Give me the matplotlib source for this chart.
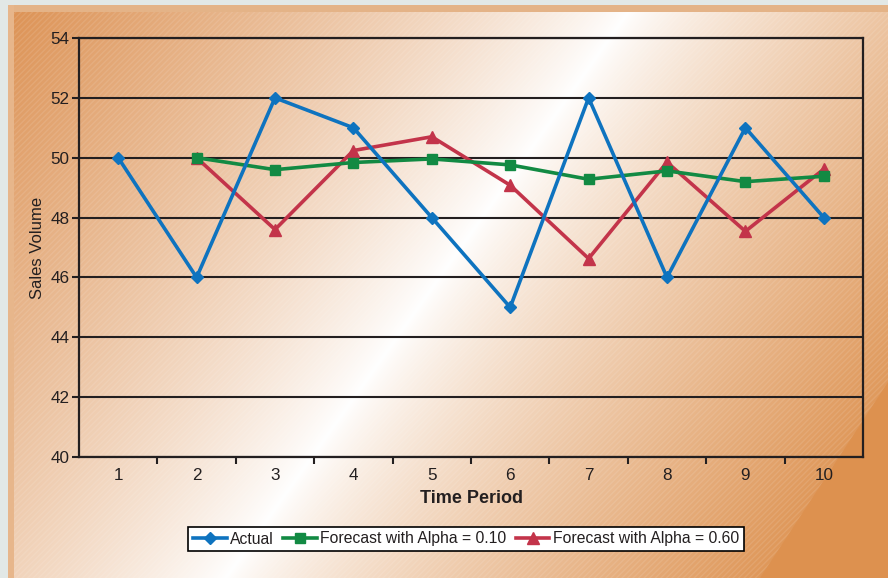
import numpy as np
import matplotlib.pyplot as plt
from matplotlib.patches import Rectangle, Polygon

plt.rcParams['font.family'] = ['Liberation Sans', 'DejaVu Sans']

# --- data ---
periods = [1, 2, 3, 4, 5, 6, 7, 8, 9, 10]
actual = [50, 46, 52, 51, 48, 45, 52, 46, 51, 48]
fc_periods = [2, 3, 4, 5, 6, 7, 8, 9, 10]
fc_010 = [50, 49.6, 49.84, 49.96, 49.76, 49.28, 49.56, 49.2, 49.38]
fc_060 = [50, 47.6, 50.24, 50.7, 49.08, 46.63, 49.85, 47.54, 49.62]

W, H = 888, 578
fig = plt.figure(figsize=(W / 100, H / 100), dpi=100)

# --- background: orange panel with a diagonal white highlight ---
bg = fig.add_axes([0, 0, 1, 1])
bg.set_xlim(0, W)
bg.set_ylim(H, 0)
bg.axis('off')

yy, xx = np.mgrid[0:H, 0:W].astype(float)
line_x = 627 - 0.71 * (yy - 12)
d = (xx - line_x) * 0.815
orange_l = np.array([0.862, 0.565, 0.318])
orange_r = np.array([0.866, 0.569, 0.31])
white = np.array([1.0, 1.0, 1.0])
fl = np.clip(-d / 520, 0, 1) ** 0.85
fr = np.clip(d / 470, 0, 1) ** 0.8
img = np.where((d < 0)[..., None],
               white * (1 - fl[..., None]) + orange_l * fl[..., None],
               white * (1 - fr[..., None]) + orange_r * fr[..., None])
bg.imshow(img, extent=(0, W, H, 0), aspect='auto', zorder=0)
bg.add_patch(Rectangle((0, 0), W, H, facecolor='none', hatch='//////',
                       edgecolor=(1, 1, 1, 0.10), linewidth=0, zorder=1))
bg.add_patch(Polygon([(888, 382), (888, 578), (760, 578)], closed=True,
                     facecolor='#dd914f', edgecolor='none', zorder=2))
# bevel edge and outer frame
bg.add_patch(Rectangle((8, 5), W, 7, facecolor='#e4b387', edgecolor='none', zorder=3))
bg.add_patch(Rectangle((8, 5), 6, H, facecolor='#e7b68b', edgecolor='none', zorder=3))
bg.add_patch(Rectangle((0, 0), W, 5, facecolor='#e2e8e6', edgecolor='none', zorder=4))
bg.add_patch(Rectangle((0, 0), 8, H, facecolor='#e2e8e6', edgecolor='none', zorder=4))

# --- main chart ---
ax = fig.add_axes([79 / W, 1 - 457 / H, (863 - 79) / W, (457 - 38) / H])
ax.patch.set_alpha(0)
dark = '#231f20'

ax.plot(periods, actual, color='#0e73bf', lw=2.6, marker='D', ms=6,
        label='Actual', zorder=5)
ax.plot(fc_periods, fc_010, color='#128a43', lw=2.6, marker='s', ms=7,
        label='Forecast with Alpha = 0.10', zorder=4)
ax.plot(fc_periods, fc_060, color='#c3344a', lw=2.6, marker='^', ms=8,
        label='Forecast with Alpha = 0.60', zorder=3)

ax.set_xlim(0.5, 10.5)
ax.set_ylim(40, 54)
ax.set_yticks(np.arange(40, 55, 2))
ax.set_xticks(periods)
ax.set_xticks(np.arange(1.5, 10, 1), minor=True)
ax.grid(axis='y', color=dark, lw=1.5)
ax.set_axisbelow(True)
for s in ax.spines.values():
    s.set_color(dark)
    s.set_linewidth(1.6)

ax.tick_params(axis='y', direction='out', length=5, width=1.5, color=dark,
               labelsize=12.3, labelcolor=dark, pad=2)
ax.tick_params(axis='x', which='major', length=0, labelsize=12.3,
               labelcolor=dark, pad=8)
ax.tick_params(axis='x', which='minor', direction='out', length=5, width=1.5,
               color=dark)

ax.set_ylabel('Sales Volume', fontsize=12, color=dark, labelpad=3.5)
ax.set_xlabel('Time Period', fontsize=13, fontweight='bold', color=dark,
              labelpad=5)

leg = fig.legend(loc='center', bbox_to_anchor=(466 / W, 1 - 539 / H), ncol=3,
                 fontsize=11.3, frameon=True, fancybox=False, framealpha=1,
                 edgecolor='black', handlelength=2.15, handletextpad=0.2,
                 columnspacing=0.6, borderpad=0.3, borderaxespad=0)
leg.get_frame().set_linewidth(1.2)
for t in leg.get_texts():
    t.set_color(dark)

fig.savefig('out.png', dpi=100)
